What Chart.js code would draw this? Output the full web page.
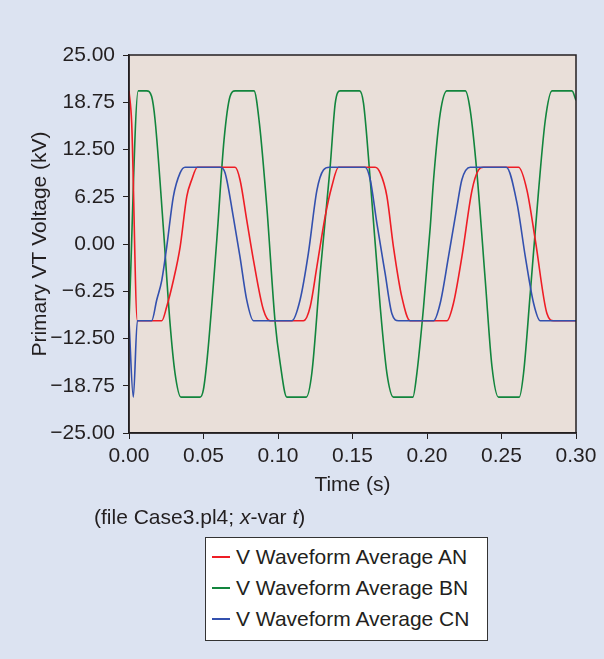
<!DOCTYPE html>
<html>
<head>
<meta charset="utf-8">
<title>Primary VT Voltage</title>
<script src="https://cdn.jsdelivr.net/npm/chart.js@4.4.1/dist/chart.umd.min.js"></script>
<style>
  body { margin: 0; background: #dce3f1; }
  #wrap { position: relative; width: 604px; height: 659px; background: #dce3f1;
          font-family: "Liberation Sans", Arial, sans-serif; color: #231f20; }
  #chart { position: absolute; left: 0; top: 0; }
  #note { position: absolute; left: 94px; top: 504px; font-size: 21px; line-height: 25px; white-space: nowrap; }
  #legend { position: absolute; left: 205px; top: 537px; width: 281px; height: 99px;
            background: #fff; border: 1px solid #333; box-sizing: content-box; padding-top: 3px; }
  .row { position: relative; height: 31px; line-height: 31px; font-size: 21px; padding-left: 30px; white-space: nowrap; }
  .row span.key { position: absolute; left: 6px; top: 15px; width: 18px; height: 1.5px; }
</style>
</head>
<body>
<div id="wrap">
  <canvas id="chart" width="604" height="659"></canvas>
  <div id="note">(file Case3.pl4; <i>x</i>-var <i>t</i>)</div>
  <div id="legend"></div>
</div>
<script>
// series names and colours
const seriesNames = ['V Waveform Average AN', 'V Waveform Average BN', 'V Waveform Average CN'];
const seriesColors = ['#ee1d25', '#12853d', '#3350ae'];

// AN waveform (time in s, voltage in kV)
const anTime = [0, 0.0018, 0.0056, 0.0220, 0.0253, 0.0298, 0.0343, 0.0388, 0.0421, 0.0459, 0.0712, 0.0745, 0.0790, 0.0835, 0.0902, 0.0947,
  0.1171, 0.1216, 0.1261, 0.1316, 0.1361, 0.1406, 0.1652, 0.1686, 0.1731, 0.1775, 0.1831, 0.1887,
  0.2134, 0.2178, 0.2234, 0.2302, 0.2346, 0.2379, 0.2614, 0.2671, 0.2727, 0.2805, 0.2850, 0.3000];
const anVolt = [20.25, 16.0, -10.15, -10.15, -8.3, -4.8, -0.4, 6.3, 8.5, 10.15, 10.15, 8.5, 3.2, -2.1, -8.7, -10.15,
  -10.15, -8.3, -3.0, 3.6, 7.6, 10.15, 10.15, 9.4, 6.3, -0.4, -7.0, -10.15,
  -10.15, -7.8, -1.7, 7.1, 9.8, 10.15, 10.15, 7.1, 0.5, -9.2, -10.15, -10.15];

// BN waveform
const bnTime = [0, 0.0062, 0.0119, 0.0152, 0.0175, 0.0230, 0.0275, 0.0309, 0.0349, 0.0477, 0.0499, 0.0526, 0.0589, 0.0638, 0.0678, 0.0712,
  0.0839, 0.0875, 0.0925, 0.0981, 0.1014, 0.1059, 0.1189, 0.1227, 0.1283, 0.1350, 0.1384, 0.1417,
  0.1547, 0.1574, 0.1619, 0.1686, 0.1731, 0.1775, 0.1905, 0.1932, 0.1977, 0.2022, 0.2044, 0.2089, 0.2134,
  0.2257, 0.2290, 0.2335, 0.2391, 0.2436, 0.2480, 0.2619, 0.2648, 0.2693, 0.2749, 0.2794, 0.2839, 0.2973, 0.3000];
const bnVolt = [-10.15, 20.25, 20.25, 19.5, 16.4, 2.3, -10.4, -17.1, -20.25, -20.25, -19.3, -14.9, 0.5, 13.8, 19.5, 20.25,
  20.25, 16.0, 4.9, -10.4, -15.7, -20.25, -20.25, -17.1, -3.9, 10.2, 18.6, 20.25,
  20.25, 18.6, 8.5, -8.3, -17.1, -20.25, -20.25, -17.1, -8.3, 2.3, 8.5, 17.3, 20.25,
  20.25, 17.7, 9.4, -4.8, -16.2, -20.25, -20.25, -17.1, -6.5, 7.1, 16.4, 20.25, 20.25, 19.0];

// CN waveform
const cnTime = [0, 0.0029, 0.0056, 0.0152, 0.0186, 0.0220, 0.0253, 0.0298, 0.0343, 0.0376, 0.0611, 0.0645, 0.0700, 0.0745, 0.0790, 0.0835,
  0.1093, 0.1148, 0.1204, 0.1261, 0.1305, 0.1345, 0.1585, 0.1619, 0.1664, 0.1719, 0.1764, 0.1809,
  0.2044, 0.2089, 0.2144, 0.2201, 0.2234, 0.2290, 0.2532, 0.2604, 0.2660, 0.2715, 0.2760, 0.3000];
const cnVolt = [-10.15, -20.25, -10.15, -10.15, -7.4, -4.8, -0.4, 6.3, 9.4, 10.15, 10.15, 9.4, 3.6, -1.7, -7.4, -10.15,
  -10.15, -7.4, -1.2, 7.1, 9.8, 10.15, 10.15, 8.5, 2.7, -3.9, -9.2, -10.15,
  -10.15, -7.8, -1.7, 4.9, 8.5, 10.15, 10.15, 5.4, -1.7, -7.8, -10.15, -10.15];

// axis ticks
const xTicks = [0, 0.05, 0.10, 0.15, 0.20, 0.25, 0.30];
const yTicks = [-25, -18.75, -12.5, -6.25, 0, 6.25, 12.5, 18.75, 25];

function toPoints(ts, vs) {
  return ts.map((t, i) => ({ x: t, y: vs[i] }));
}
function fmt(v) {
  const s = Math.abs(v).toFixed(2);
  return v < 0 ? '\u2212' + s : s;
}

const FONT = { family: '"Liberation Sans", Arial, sans-serif', size: 21 };
const INK = '#231f20';

// plot background + frame
const plotFrame = {
  id: 'plotFrame',
  beforeDraw(chart) {
    const a = chart.chartArea, ctx = chart.ctx;
    ctx.save();
    ctx.fillStyle = '#e9dfd9';
    ctx.fillRect(a.left, a.top, a.right - a.left, a.bottom - a.top);
    ctx.restore();
  },
  afterDraw(chart) {
    const a = chart.chartArea, ctx = chart.ctx;
    ctx.save();
    ctx.strokeStyle = '#231f20';
    ctx.lineWidth = 1.5;
    ctx.strokeRect(a.left, a.top, a.right - a.left, a.bottom - a.top);
    ctx.restore();
  }
};

const datasets = [[anTime, anVolt], [bnTime, bnVolt], [cnTime, cnVolt]].map((d, i) => ({
  label: seriesNames[i],
  data: toPoints(d[0], d[1]),
  borderColor: seriesColors[i],
  borderWidth: 1.6,
  pointRadius: 0,
  cubicInterpolationMode: 'monotone',
  fill: false
}));
// draw order: BN under AN, CN on top
datasets[0].order = 2; datasets[1].order = 3; datasets[2].order = 1;

new Chart(document.getElementById('chart'), {
  type: 'line',
  data: { datasets },
  options: {
    responsive: false,
    animation: false,
    layout: { padding: { left: 0, top: 55, right: 28, bottom: 156 } },
    plugins: { legend: { display: false }, tooltip: { enabled: false } },
    scales: {
      x: {
        type: 'linear', min: 0, max: 0.30,
        afterBuildTicks: s => { s.ticks = xTicks.map(v => ({ value: v })); },
        afterFit: s => { s.height = 70; },
        ticks: { callback: v => fmt(v), color: INK, font: FONT, padding: 5, maxRotation: 0 },
        grid: { drawOnChartArea: false, drawTicks: true, tickLength: 6, color: INK },
        border: { display: true, color: INK, width: 1.5 },
        title: { display: true, text: 'Time (s)', color: INK, font: FONT, padding: { top: 0, bottom: 5 } }
      },
      y: {
        type: 'linear', min: -25, max: 25,
        afterBuildTicks: s => { s.ticks = yTicks.map(v => ({ value: v })); },
        afterFit: s => { s.width = 129; },
        ticks: { callback: v => fmt(v), color: INK, font: FONT, padding: 8 },
        grid: { drawOnChartArea: false, drawTicks: true, tickLength: 6, color: INK },
        border: { display: true, color: INK, width: 1.5 },
        title: { display: true, text: 'Primary VT Voltage (kV)', color: INK, font: FONT, padding: { top: 28, bottom: 0 } }
      }
    }
  },
  plugins: [plotFrame]
});

// legend box
const legend = document.getElementById('legend');
seriesNames.forEach((name, i) => {
  const row = document.createElement('div');
  row.className = 'row';
  row.innerHTML = '<span class="key" style="background:' + seriesColors[i] + '"></span>' + name;
  legend.appendChild(row);
});
</script>
</body>
</html>
